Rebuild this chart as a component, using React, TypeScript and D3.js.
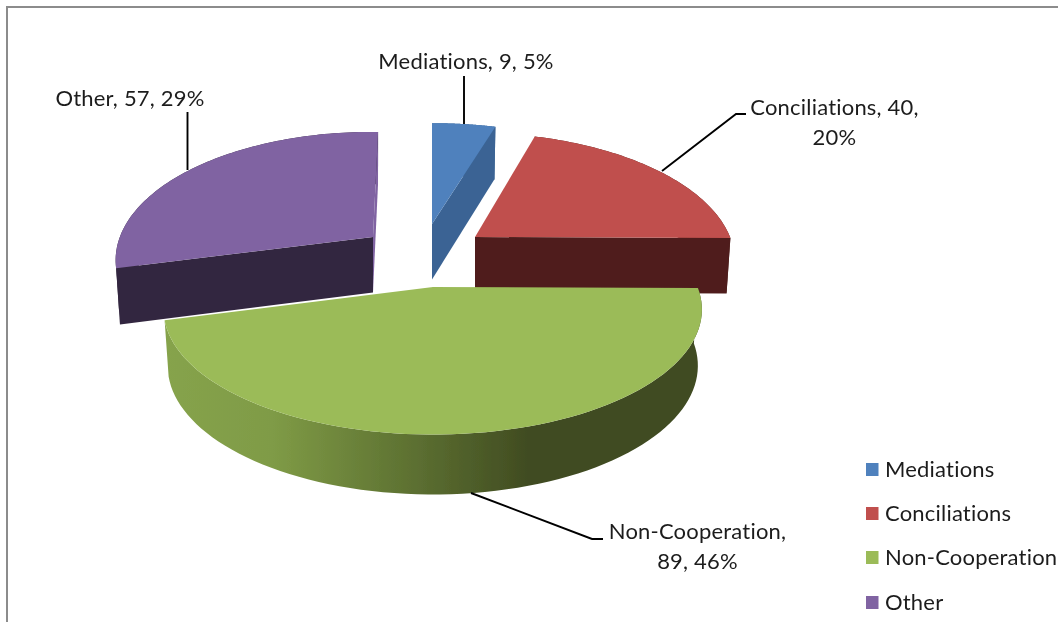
import React from "react";
import * as d3 from "d3";

const categories = ["Mediations", "Conciliations", "Non-Cooperation", "Other"];
const values = [9, 40, 89, 57];
const topColors = ["#4f81bd", "#c0504d", "#9bbb59", "#8064a2"];
const sideColors = ["#3b6494", "#4f1f1d", "url(#greenRim)", "#33273f"];

const W = 1058;
const H = 622;
const PERSPECTIVE = 0.18;
const FONT = "Lato, 'Open Sans', sans-serif";

// Screen layout of each exploded slice
const sliceLayout = [
  { ax: 432, ay: 224, uR: 260, uL: 260, uy: 0, vx: 0, vy: 119 },
  { ax: 475, ay: 237, uR: 255, uL: 255, uy: 0, vx: -3, vy: 123 },
  { ax: 433, ay: 287, uR: 264.5, uL: 265, uy: 0, vx: 0, vy: 121 },
  { ax: 373, ay: 237, uR: 252, uL: 252, uy: 3, vx: 6, vy: 124 },
];
const paintOrder = [3, 0, 1, 2];

const leaders = [
  [[464, 76], [464, 124]],
  [[746, 114], [736, 114], [662, 171]],
  [[471, 493], [592, 539], [603, 539]],
  [[187.5, 112], [187.5, 170]],
];
const labels = [
  { lines: ["Mediations, 9, 5%"], x: 466, y: 69 },
  { lines: ["Conciliations, 40,", "20%"], x: 834.5, y: 115 },
  { lines: ["Non-Cooperation,", "89, 46%"], x: 697.5, y: 539 },
  { lines: ["Other, 57, 29%"], x: 130, y: 106 },
];
const legendY = [463, 507, 551, 596];

type P = [number, number];
type L = (typeof sliceLayout)[number];

const project = (l: L, t: number): P => {
  const s = Math.sin(t);
  const c = Math.cos(t);
  const d = 1 + PERSPECTIVE * c;
  return [
    l.ax + ((s > 0 ? l.uR : l.uL) * s + l.vx * c) / d,
    l.ay + (l.uy * s - l.vy * c) / d,
  ];
};
const drop = (l: L, p: P): P => [
  l.ax + (p[0] - l.ax) * 0.985,
  l.ay + 55.5 + (p[1] - l.ay) * 1.03,
];

const line = d3.line<P>().x((d) => d[0]).y((d) => d[1]);
const closed = (pts: P[]) => line(pts) + "Z";

const pie = d3.pie<number>().sort(null).startAngle(0).endAngle(2 * Math.PI);

export default function App() {
  const arcs = pie(values);
  const slices = arcs.map((a, i) => {
    const l = sliceLayout[i];
    const apex: P = [l.ax, l.ay];
    const steps = d3.range(0, 81).map((k) => a.startAngle + ((a.endAngle - a.startAngle) * k) / 80);
    const rim = steps.map((t) => project(l, t));
    const top = closed([apex, ...rim]);
    const low = rim.map((p) => drop(l, p));
    const rimPath = closed([...rim, ...low.slice().reverse()]);
    const cut = (p: P) => closed([apex, p, drop(l, p), drop(l, apex)]);
    const first = rim[0];
    const last = rim[rim.length - 1];
    return { i, top, rimPath, cutA: cut(first), cutB: cut(last) };
  });

  return (
    <svg
      width={W}
      height={H}
      viewBox={`0 0 ${W} ${H}`}
      style={{ position: "absolute", left: 0, top: 0, display: "block", background: "#fff" }}
    >
      <defs>
        <linearGradient id="greenRim" gradientUnits="userSpaceOnUse" x1={165} x2={703} y1={0} y2={0}>
          <stop offset="0" stopColor="#86a34c" />
          <stop offset="0.2" stopColor="#7f9b46" />
          <stop offset="0.45" stopColor="#5e7232" />
          <stop offset="0.68" stopColor="#404b21" />
          <stop offset="1" stopColor="#404b21" />
        </linearGradient>
        <filter id="soft" x="0" y="0" width="100%" height="100%" filterUnits="objectBoundingBox">
          <feGaussianBlur stdDeviation="0.45" />
        </filter>
      </defs>

      <g filter="url(#soft)">
        <rect x={0} y={0} width={W} height={H} fill="#fff" />
        <path d={`M${W},7H7V${H}`} fill="none" stroke="#8c8c8c" strokeWidth={2} />

        {paintOrder.map((k) => {
          const s = slices[k];
          return (
            <g key={categories[k]}>
              <path d={s.rimPath} fill={sideColors[k]} />
              {k === 3 ? <path d={s.cutB} fill={topColors[k]} /> : null}
              {k !== 3 && k !== 2 ? <path d={s.cutB} fill={sideColors[k]} /> : null}
              {k === 3 ? <path d={s.cutA} fill={sideColors[k]} /> : null}
              <path d={s.top} fill={topColors[k]} />
            </g>
          );
        })}

        {leaders.map((pts, i) => (
          <path key={i} d={line(pts as P[]) as string} fill="none" stroke="#000" strokeWidth={1.9} />
        ))}

        <g
          fontFamily={FONT}
          fontSize={22}
          fill="#1c1c1c"
          letterSpacing={0.2}
          style={{ fontVariantLigatures: "none" }}
        >
          {labels.map((lab, i) => (
            <text key={i} textAnchor="middle">
              {lab.lines.map((t, j) => (
                <tspan key={j} x={lab.x} y={lab.y + j * 29.5}>
                  {t}
                </tspan>
              ))}
            </text>
          ))}
          {categories.map((c, i) => (
            <g key={c}>
              <rect x={866} y={legendY[i]} width={12.5} height={13} fill={topColors[i]} />
              <text x={885} y={legendY[i] + 14}>
                {c}
              </text>
            </g>
          ))}
        </g>
      </g>
    </svg>
  );
}
